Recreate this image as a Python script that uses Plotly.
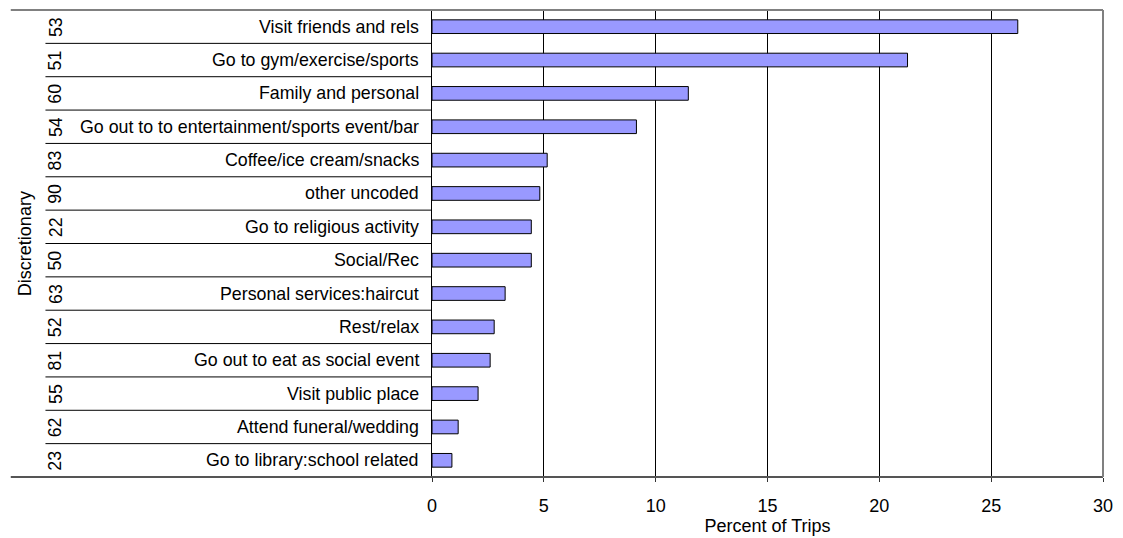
import plotly.graph_objects as go

codes = ["53", "51", "60", "54", "83", "90", "22", "50", "63", "52", "81", "55", "62", "23"]
labels = ["Visit friends and rels", "Go to gym/exercise/sports", "Family and personal",
          "Go out to to entertainment/sports event/bar", "Coffee/ice cream/snacks",
          "other uncoded", "Go to religious activity", "Social/Rec",
          "Personal services:haircut", "Rest/relax", "Go out to eat as social event",
          "Visit public place", "Attend funeral/wedding", "Go to library:school related"]
values = [26.19, 21.26, 11.46, 9.14, 5.15, 4.82, 4.44, 4.44, 3.27, 2.78, 2.60, 2.06, 1.17, 0.89]
group_label = "Discretionary"
x_title = "Percent of Trips"
x_ticks = [0, 5, 10, 15, 20, 25, 30]

FONT = "Liberation Sans, Arial, sans-serif"
W, H = 1123, 538
L, R, T, B = 432, 14, 10, 59
PW = W - L - R

def px2paper(px):
    return (px - L) / PW

cats = [f"{c} {l}" for c, l in zip(codes, labels)]

fig = go.Figure(go.Bar(
    x=values, y=cats, orientation="h",
    marker=dict(color="#9999FF", line=dict(color="#000000", width=1)),
    width=0.41,
))

annotations = []
for cat, c, l in zip(cats, codes, labels):
    annotations.append(dict(x=0, xref="paper", y=cat, yref="y", text=l, showarrow=False,
                            xanchor="right", xshift=-11, font=dict(family=FONT, size=17.8, color="black")))
    annotations.append(dict(x=px2paper(52), xref="paper", y=cat, yref="y", text=c, showarrow=False,
                            textangle=-90, xanchor="center", font=dict(family=FONT, size=17.8, color="black")))
annotations.append(dict(x=px2paper(21), xref="paper", y=0.5, yref="paper", text=group_label,
                        showarrow=False, textangle=-90, xanchor="center",
                        font=dict(family=FONT, size=18, color="black")))

shapes = []
n = len(cats)
for i in range(n - 1):
    shapes.append(dict(type="line", xref="paper", yref="y", x0=px2paper(42), x1=0,
                       y0=i + 0.5, y1=i + 0.5, line=dict(color="black", width=1)))
shapes.append(dict(type="line", xref="paper", yref="paper", x0=px2paper(7), x1=1, y0=1, y1=1,
                   line=dict(color="#808080", width=2)))
shapes.append(dict(type="line", xref="paper", yref="paper", x0=px2paper(7), x1=1, y0=0, y1=0,
                   line=dict(color="#555555", width=2)))
shapes.append(dict(type="line", xref="paper", yref="paper", x0=1, x1=1, y0=0, y1=1,
                   line=dict(color="#808080", width=2)))

fig.update_layout(
    width=W, height=H,
    margin=dict(l=L, r=R, t=T, b=B, pad=0),
    paper_bgcolor="white", plot_bgcolor="white",
    showlegend=False,
    font=dict(family=FONT, size=18, color="black"),
    xaxis=dict(range=[0, 30], tickvals=x_ticks, showgrid=True, gridcolor="black", gridwidth=1,
               zeroline=False, showline=False, ticks="outside", ticklen=4, tickcolor="#333333",
               tickfont=dict(family=FONT, size=18), ticklabelstandoff=8,
               title=dict(text=x_title, font=dict(family=FONT, size=18), standoff=0)),
    yaxis=dict(categoryorder="array", categoryarray=cats, autorange="reversed",
               showticklabels=False, showgrid=False, zeroline=False,
               showline=True, linecolor="black", linewidth=1, ticks=""),
    annotations=annotations,
    shapes=shapes,
)

fig.write_html("out.html")
